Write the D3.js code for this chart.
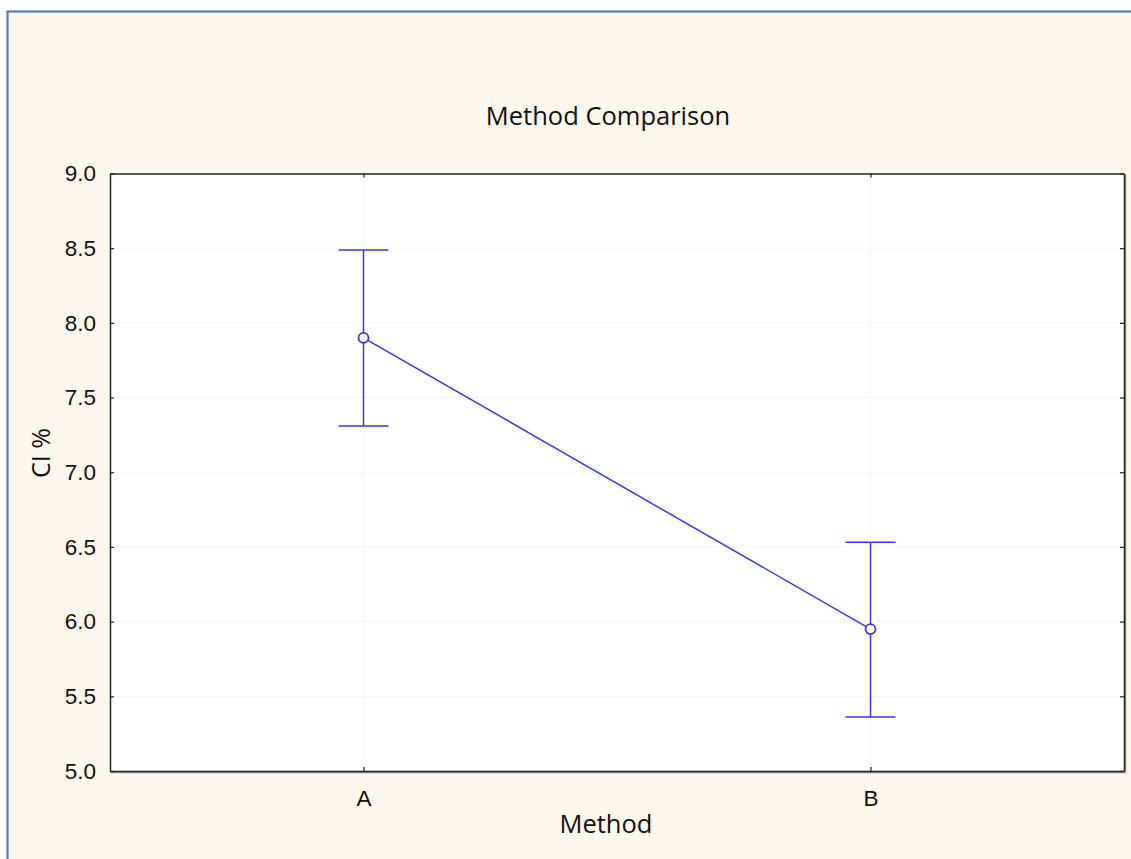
<!DOCTYPE html>
<html><head><meta charset="utf-8">
<script src="https://cdn.jsdelivr.net/npm/d3@7"></script>
<style>body{margin:0;background:#fff;}svg{display:block;}</style>
</head><body><svg id="c" width="1131" height="859"></svg>
<script>
const categories = ["A", "B"];
const means = [7.90, 5.95];
const upper = [8.488, 6.532];
const lower = [7.310, 5.362];
const yTicks = [5.0, 5.5, 6.0, 6.5, 7.0, 7.5, 8.0, 8.5, 9.0];

const svg = d3.select("#c");
const L = 110, R = 1124, T = 173.5, B = 771;
const blue = "#3636ff";

svg.append("rect").attr("x", 7.5).attr("y", 11.5).attr("width", 1140).attr("height", 860)
  .attr("fill", "#fef8ec").attr("stroke", "#4f81bd").attr("stroke-width", 2.2);

const x = d3.scalePoint().domain(categories).range([L, R]).padding(0.5);
const y = d3.scaleLinear().domain([5, 9]).range([B, T]);

// plot background with slight shadow
svg.append("rect").attr("x", L + 1.5).attr("y", T + 1.5).attr("width", R - L).attr("height", B - T)
  .attr("fill", "none").attr("stroke", "#999").attr("stroke-width", 1.5);
svg.append("rect").attr("x", L).attr("y", T).attr("width", R - L).attr("height", B - T).attr("fill", "#fff");

// grid
const g = svg.append("g");
g.selectAll(".hg").data(yTicks.slice(1, -1)).join("line")
  .attr("x1", L).attr("x2", R).attr("y1", d => y(d)).attr("y2", d => y(d))
  .attr("stroke", "#ececec").attr("stroke-width", 1).attr("stroke-dasharray", "1,1");
g.selectAll(".vg").data(categories).join("line")
  .attr("x1", d => x(d)).attr("x2", d => x(d)).attr("y1", T).attr("y2", B)
  .attr("stroke", "#ececec").attr("stroke-width", 1).attr("stroke-dasharray", "1,1");

// axes
const font = "Liberation Sans, Arial, sans-serif";
const yAxis = svg.append("g").attr("transform", `translate(${L},0)`)
  .call(d3.axisLeft(y).tickValues(yTicks).tickFormat(d3.format(".1f")).tickSizeInner(-4).tickSizeOuter(0).tickPadding(14));
const xAxis = svg.append("g").attr("transform", `translate(0,${B})`)
  .call(d3.axisBottom(x).tickSizeInner(-4).tickSizeOuter(0).tickPadding(19));
const xTop = svg.append("g").attr("transform", `translate(0,${T})`)
  .call(d3.axisTop(x).tickSizeInner(-4).tickSizeOuter(0).tickFormat(""));
const yRight = svg.append("g").attr("transform", `translate(${R},0)`)
  .call(d3.axisRight(y).tickValues(yTicks).tickSizeInner(-4).tickSizeOuter(0).tickFormat(""));
[yAxis, xAxis, xTop, yRight].forEach(a => {
  a.select(".domain").attr("stroke", "#222").attr("stroke-width", 1.5);
  a.selectAll(".tick line").attr("stroke", "#222").attr("stroke-width", 1.2);
  a.selectAll("text").attr("font-family", font).attr("font-size", 22.5).attr("fill", "#111");
});

// line
const line = d3.line().x((d, i) => x(categories[i])).y(d => y(d));
svg.append("path").datum(means).attr("d", line).attr("fill", "none").attr("stroke", blue).attr("stroke-width", 1.5);

// error bars
const eb = svg.append("g").attr("stroke", blue).attr("stroke-width", 1.5);
categories.forEach((c, i) => {
  eb.append("line").attr("x1", x(c)).attr("x2", x(c)).attr("y1", y(upper[i])).attr("y2", y(lower[i]));
  eb.append("line").attr("x1", x(c) - 25).attr("x2", x(c) + 25).attr("y1", y(upper[i])).attr("y2", y(upper[i]));
  eb.append("line").attr("x1", x(c) - 25).attr("x2", x(c) + 25).attr("y1", y(lower[i])).attr("y2", y(lower[i]));
});
svg.selectAll(".pt").data(means).join("circle")
  .attr("cx", (d, i) => x(categories[i])).attr("cy", d => y(d)).attr("r", 5)
  .attr("fill", "#fff").attr("stroke", blue).attr("stroke-width", 1.8);

// titles
const tfont = "Open Sans, Noto Sans, sans-serif";
svg.append("text").attr("x", 608).attr("y", 125).attr("text-anchor", "middle")
  .attr("font-family", tfont).attr("font-size", 25.5).attr("fill", "#111").text("Method Comparison");
svg.append("text").attr("x", 606).attr("y", 833).attr("text-anchor", "middle")
  .attr("font-family", tfont).attr("font-size", 25.5).attr("fill", "#111").text("Method");
svg.append("text").attr("transform", "translate(50,453) rotate(-90)").attr("text-anchor", "middle")
  .attr("font-family", tfont).attr("font-size", 25).attr("fill", "#111").text("CI %");
</script></body></html>
